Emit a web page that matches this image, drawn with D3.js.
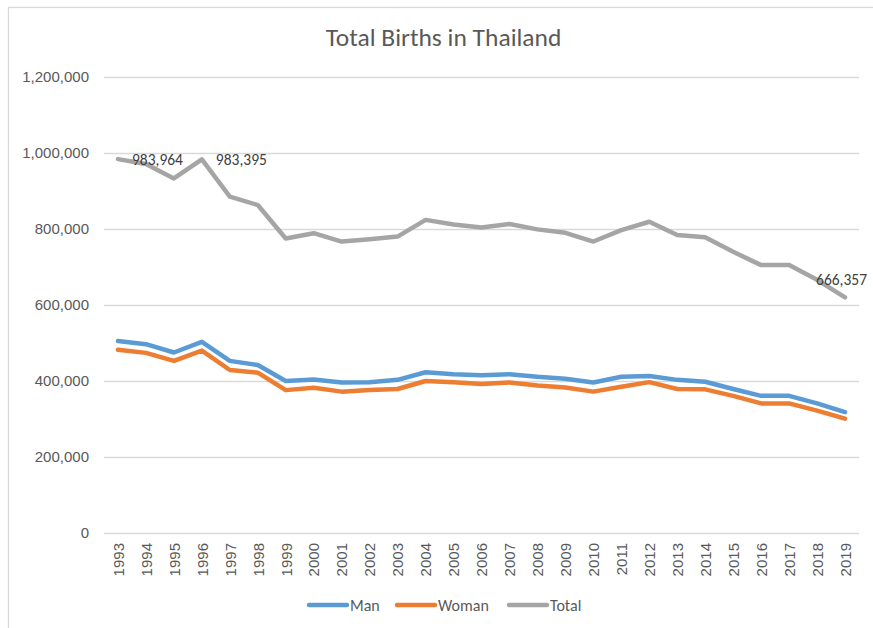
<!DOCTYPE html>
<html>
<head>
<meta charset="utf-8">
<script src="https://cdn.jsdelivr.net/npm/d3@7"></script>
<style>
    body { margin: 0; background: #fff; }
    svg { display: block; font-family: Calibri, Carlito, Lato, sans-serif; }
    .tick_label { fill: #595959; font-size: 15px; }
    .legend_label { fill: #595959; font-size: 16px; }
    .data_label { fill: #404040; font-size: 15.5px; }
</style>
</head>
<body>
<div id="chart"><svg></svg></div>
<script>
// 年份
let years = [1993, 1994, 1995, 1996, 1997, 1998, 1999, 2000, 2001, 2002, 2003, 2004, 2005, 2006,
    2007, 2008, 2009, 2010, 2011, 2012, 2013, 2014, 2015, 2016, 2017, 2018, 2019];

let man = [505000, 497000, 475000, 503000, 453000, 442000, 400000, 404000, 396000, 397000, 403000, 423000,
    418000, 415000, 418000, 411000, 406000, 396000, 411000, 413000, 403000, 398000, 379000, 361000,
    361000, 341000, 318000];
let woman = [482000, 474000, 453000, 480000, 429000, 422000, 376000, 382000, 372000, 376000, 379000, 400000,
    397000, 392000, 396000, 388000, 383000, 372000, 385000, 397000, 379000, 378000, 361000, 341000,
    341000, 322000, 301000];
let total = [983964, 971000, 933000, 983395, 885000, 863000, 775000, 789000, 767000, 773000, 780000, 824000,
    812000, 804000, 813000, 799000, 790000, 767000, 797000, 819000, 784000, 778000, 740000, 705000,
    705000, 666357, 620000];

let y_ticks = [0, 200000, 400000, 600000, 800000, 1000000, 1200000];

let series_names = ['Man', 'Woman', 'Total'];
let series_colors = ['#5B9BD5', '#ED7D31', '#A5A5A5'];

// 数据标签 (series index, year)
let data_labels = [
    { s: 2, year: 1993 },
    { s: 2, year: 1996 },
    { s: 2, year: 2018 }
];

let width = 873;
let height = 628;
let padding = { left: 104, right: 14, top: 77, bottom: 95 };

let svg = d3.select('#chart').select('svg')
    .attr('width', width)
    .attr('height', height);

// chart border
svg.append('rect')
    .attr('x', 8.5).attr('y', 7.5)
    .attr('width', width + 20).attr('height', height + 20)
    .attr('fill', 'none')
    .attr('stroke', '#D9D9D9')
    .attr('stroke-width', 1.3);

// title
svg.append('text')
    .attr('x', 443.5)
    .attr('y', 46)
    .attr('text-anchor', 'middle')
    .attr('fill', '#595959')
    .attr('font-size', '25.5px')
    .text('Total Births in Thailand');

let x = d3.scalePoint()
    .domain(years)
    .range([padding.left, width - padding.right])
    .padding(0.5);

let y = d3.scaleLinear()
    .domain([0, 1200000])
    .range([height - padding.bottom, padding.top]);

// gridlines + y axis
let axis_y = d3.axisLeft(y)
    .tickValues(y_ticks)
    .tickSize(-(width - padding.left - padding.right))
    .tickPadding(15)
    .tickFormat(d3.format(','));

let gy = svg.append('g')
    .attr('transform', `translate(${padding.left}, 0)`)
    .call(axis_y);
gy.select('.domain').remove();
gy.selectAll('.tick line').attr('stroke', '#D9D9D9').attr('stroke-width', 1.3);
gy.selectAll('.tick text')
    .attr('class', 'tick_label')
    .attr('font-family', null).attr('font-size', null).attr('fill', null);

// x axis labels (rotated)
let axis_x = d3.axisBottom(x).tickSize(0).tickPadding(0);
let gx = svg.append('g')
    .attr('transform', `translate(0, ${height - padding.bottom})`)
    .call(axis_x);
gx.select('.domain').remove();
gx.selectAll('.tick text')
    .attr('class', 'tick_label')
    .attr('font-family', null).attr('font-size', null).attr('fill', null)
    .attr('transform', 'rotate(-90)')
    .attr('text-anchor', 'end')
    .attr('x', -10)
    .attr('y', 0)
    .attr('dy', '0.35em');

// lines
let all_series = [man, woman, total];
let line = d3.line()
    .x((d, i) => x(years[i]))
    .y(d => y(d));

svg.append('g')
    .selectAll('path')
    .data(all_series)
    .enter().append('path')
    .attr('d', d => line(d))
    .attr('fill', 'none')
    .attr('stroke', (d, i) => series_colors[i])
    .attr('stroke-width', 4.5)
    .attr('stroke-linejoin', 'round')
    .attr('stroke-linecap', 'round');

// data labels
svg.append('g')
    .selectAll('text')
    .data(data_labels)
    .enter().append('text')
    .attr('class', 'data_label')
    .attr('x', d => {
        let px = x(d.year);
        // 最右边的标签往左挪，避免超出
        return d.year === 2018 ? px - 1 : px + 14;
    })
    .attr('y', d => y(all_series[d.s][years.indexOf(d.year)]))
    .attr('dy', '0.35em')
    .text(d => d3.format(',')(all_series[d.s][years.indexOf(d.year)]));

// legend
let legend_x = [309, 397, 509];
let legend = svg.append('g')
    .selectAll('g')
    .data(series_names)
    .enter().append('g')
    .attr('transform', (d, i) => `translate(${legend_x[i]}, 605)`);
legend.append('line')
    .attr('x1', 0).attr('x2', 38)
    .attr('stroke', (d, i) => series_colors[i])
    .attr('stroke-width', 4.5)
    .attr('stroke-linecap', 'round');
legend.append('text')
    .attr('class', 'legend_label')
    .attr('x', 41)
    .attr('dy', '0.35em')
    .text(d => d);
</script>
</body>
</html>
